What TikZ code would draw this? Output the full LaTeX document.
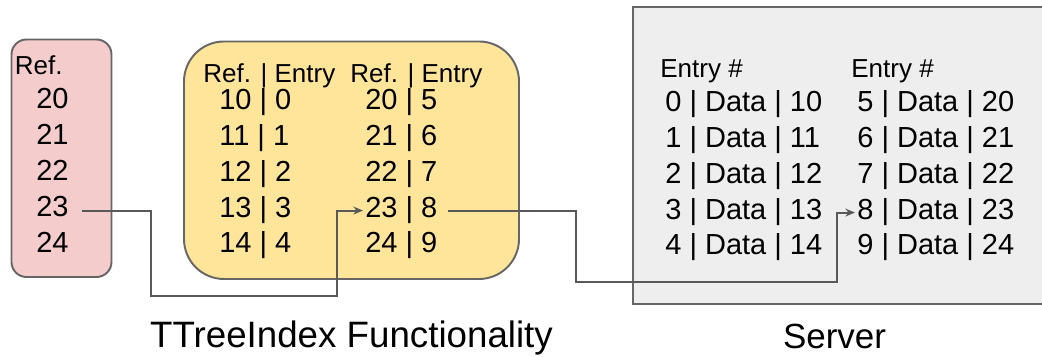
\documentclass[tikz,border=0pt]{standalone}
\usepackage{fontspec}
\setmainfont{Liberation Sans}
\usetikzlibrary{arrows.meta}
\definecolor{refpink}{HTML}{F4CCCC}
\definecolor{idxyellow}{HTML}{FFE599}
\definecolor{srvgray}{HTML}{EEEEEE}
\definecolor{edgegray}{HTML}{666666}
\definecolor{linkgray}{HTML}{595959}

\begin{document}
\begin{tikzpicture}[x=0.02cm,y=-0.02cm,
    box/.style={draw=edgegray,line width=1.1pt},
    head/.style={inner sep=0,anchor=base west,font=\fontsize{14.8}{17}\selectfont},
    row/.style={inner sep=0,anchor=base west,font=\fontsize{16.5}{19}\selectfont},
    title/.style={inner sep=0,anchor=base,font=\fontsize{19.9}{23}\selectfont},
    link/.style={draw=linkgray,line width=1.1pt,-{Stealth[length=5.5pt,width=4.5pt]}}]
        \useasboundingbox (0,0) rectangle (1042,357);
        \clip (0,0) rectangle (1042,357);
        % boxes
        \draw[box,fill=refpink,rounded corners=0.3cm] (11.5,39.5) rectangle (111.5,277);
        \draw[box,fill=idxyellow,rounded corners=0.8cm] (184,41.5) rectangle (519,279);
        \draw[box,fill=srvgray] (633,7) rectangle (1060,304);
        % references
        \node[head] (pref) at (14.5,75) {Ref.};
        \node[row] (p20) at (36,109) {20};
        \node[row] (p21) at (36,145) {21};
        \node[row] (p22) at (36,181) {22};
        \node[row] (p23) at (36,217) {23};
        \node[row] (p24) at (36,253) {24};
        % index
        \node[head] (yhead1) at (203,83) {Ref. | Entry};
        \node[head] (yhead2) at (350,83) {Ref. | Entry};
        \node[row] (y10) at (219,110) {10 | 0};
        \node[row] (y11) at (219,146) {11 | 1};
        \node[row] (y12) at (219,182) {12 | 2};
        \node[row] (y13) at (219,218) {13 | 3};
        \node[row] (y14) at (219,253) {14 | 4};
        \node[row] (y20) at (365,110) {20 | 5};
        \node[row] (y21) at (365,146) {21 | 6};
        \node[row] (y22) at (365,182) {22 | 7};
        \node[row] (y23) at (365,218) {23 | 8};
        \node[row] (y24) at (365,253) {24 | 9};
        % server
        \node[head] (ghead1) at (660,78) {Entry \#};
        \node[head] (ghead2) at (851,78) {Entry \#};
        \node[row] (g0) at (665,112) {0 | Data | 10};
        \node[row] (g1) at (665,148) {1 | Data | 11};
        \node[row] (g2) at (665,184) {2 | Data | 12};
        \node[row] (g3) at (665,220) {3 | Data | 13};
        \node[row] (g4) at (665,255) {4 | Data | 14};
        \node[row] (g5) at (857,112) {5 | Data | 20};
        \node[row] (g6) at (857,148) {6 | Data | 21};
        \node[row] (g7) at (857,184) {7 | Data | 22};
        \node[row] (g8) at (857,220) {8 | Data | 23};
        \node[row] (g9) at (857,255) {9 | Data | 24};
        % captions
        \node[title,font=\fontsize{20.9}{24}\selectfont] (idxtitle) at (351.5,348) {TTreeIndex Functionality};
        \node[title] (srvtitle) at (834.5,349) {Server};
        % links
        \coordinate (low1) at (151,296);
        \coordinate (low2) at (576,282);
        \draw[link] ([shift={(13,4)}]p23.east) -| (low1) -| ([shift={(-28,0)}]y23.west) -- ([shift={(-2,0)}]y23.west);
        \draw[link] ([shift={(10,0)}]y23.east) -| (low2) -| ([shift={(-20,0)}]g8.west) -- ([shift={(-2,0)}]g8.west);
\end{tikzpicture}
\end{document}
